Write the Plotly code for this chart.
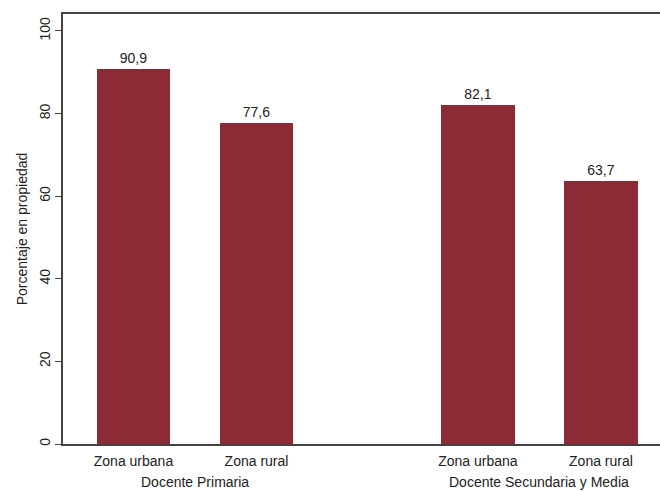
import plotly.graph_objects as go

groups = ["Docente Primaria", "Docente Secundaria y Media"]
zones = ["Zona urbana", "Zona rural"]
values = [90.9, 77.6, 82.1, 63.7]
y_ticks = [0, 20, 40, 60, 80, 100]

group_gap = 1.8
group_step = len(zones) - 1 + group_gap
xs, labels = [], []
for gi, g in enumerate(groups):
    for zi, z in enumerate(zones):
        xs.append(gi * group_step + zi)
        labels.append(z)

texts = [f"{v:.1f}".replace(".", ",") for v in values]
FONT = "Liberation Sans, Arial"

fig = go.Figure()
fig.add_trace(go.Bar(
    x=xs, y=values, width=0.6,
    marker=dict(color="#8c2a35", line=dict(width=0)),
    text=texts, textposition="outside",
    textfont=dict(family=FONT, size=14, color="#222"),
    cliponaxis=False,
))

for gi, g in enumerate(groups):
    fig.add_annotation(
        x=gi * group_step + (len(zones) - 1) / 2, y=0, xref="x", yref="paper",
        yshift=-48, text=g, showarrow=False,
        font=dict(family=FONT, size=14, color="#222"),
    )

fig.update_layout(
    width=660, height=491,
    margin=dict(l=63, r=0, t=14, b=47, autoexpand=False),
    plot_bgcolor="white", paper_bgcolor="white",
    showlegend=False,
    font=dict(family=FONT, size=14, color="#222"),
    bargap=0,
)
fig.update_xaxes(
    range=[-0.573, 4.28], tickvals=xs, ticktext=labels,
    showline=True, linecolor="#444", linewidth=1.5, mirror=True,
    showgrid=False, zeroline=False, ticks="", automargin=False,
    ticklabelstandoff=3,
    tickfont=dict(size=14, color="#222"),
)
fig.update_yaxes(
    range=[0, 104.1], tickvals=y_ticks, tickangle=-90,
    showline=True, linecolor="#444", linewidth=1.5,
    ticks="outside", ticklen=6, tickcolor="#444", automargin=False,
    showgrid=False, zeroline=False,
    title=dict(text="Porcentaje en propiedad", standoff=6,
               font=dict(size=14, color="#222")),
    tickfont=dict(size=14, color="#222"),
)

fig.write_html(
    "out.html",
    config={"displayModeBar": False},
    post_script="document.body.style.margin='0';document.body.style.overflow='hidden';",
)
